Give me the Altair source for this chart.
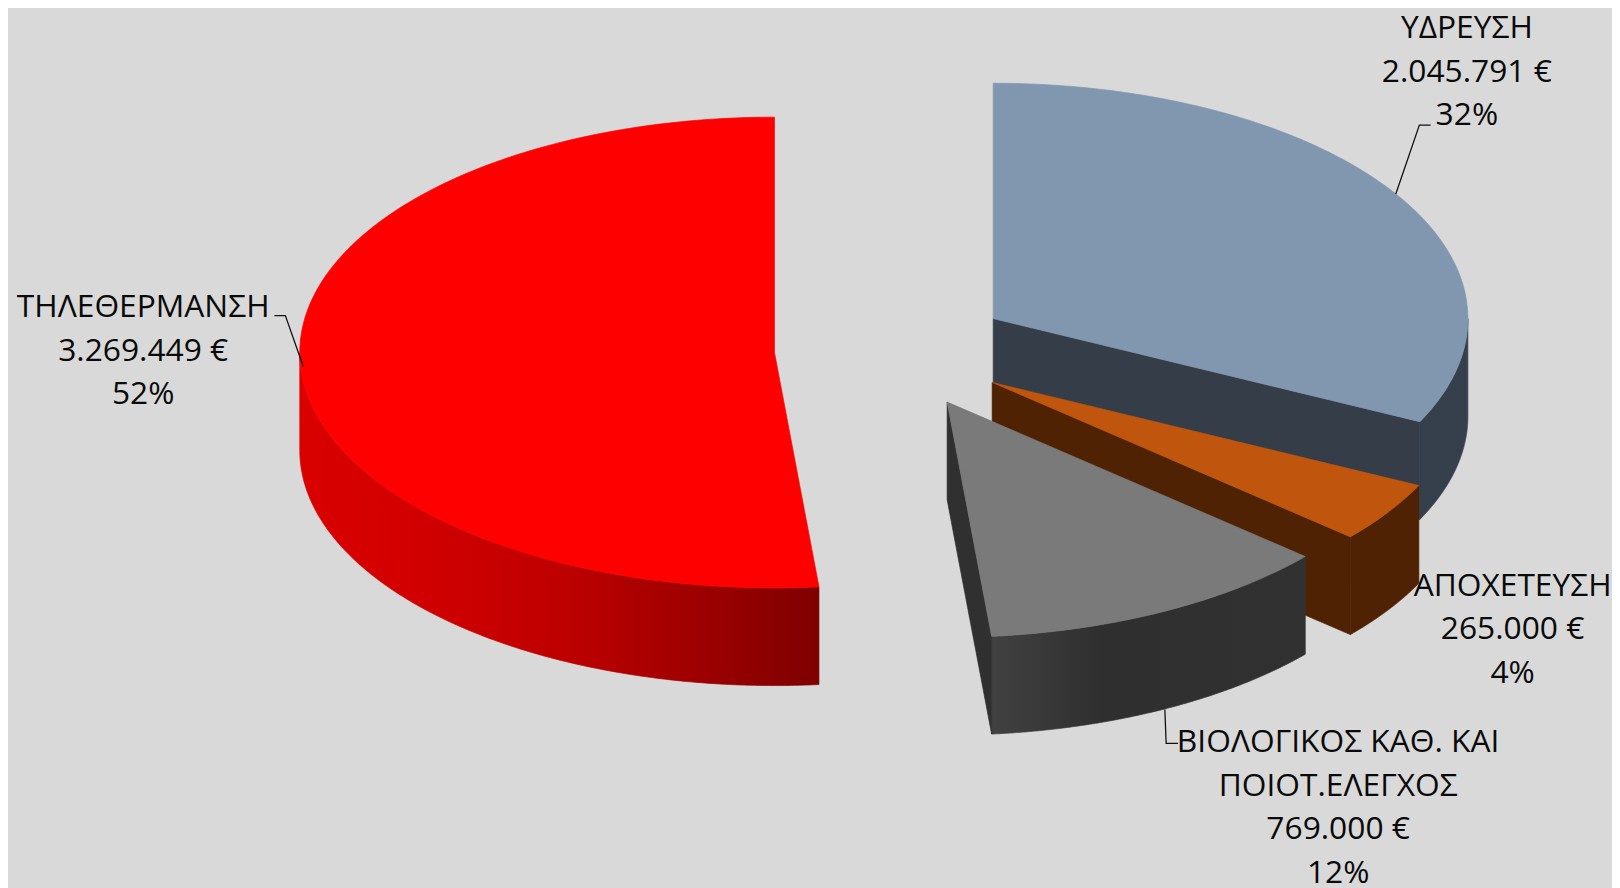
import numpy as np
import pandas as pd
import altair as alt

# ---- values ----
categories = ["ΥΔΡΕΥΣΗ", "ΑΠΟΧΕΤΕΥΣΗ", "ΒΙΟΛΟΓΙΚΟΣ ΚΑΘ. ΚΑΙ ΠΟΙΟΤ.ΕΛΕΓΧΟΣ", "ΤΗΛΕΘΕΡΜΑΝΣΗ"]
values = [2045791, 265000, 769000, 3269449]
amount_labels = ["2.045.791 €", "265.000 €", "769.000 €", "3.269.449 €"]
percent_labels = ["32%", "4%", "12%", "52%"]
name_lines = [["ΥΔΡΕΥΣΗ"], ["ΑΠΟΧΕΤΕΥΣΗ"], ["ΒΙΟΛΟΓΙΚΟΣ ΚΑΘ. ΚΑΙ", "ΠΟΙΟΤ.ΕΛΕΓΧΟΣ"], ["ΤΗΛΕΘΕΡΜΑΝΣΗ"]]

# ---- layout of the 3-D view ----
W, H = 1612, 880
XDOM = [8, 1615.5]
YDOM = [10.4, 885.2]
RX, RY, DEPTH = 477.5, 236, 98
centers = [(999, 318), (998, 382), (952.7, 401.7), (779, 352)]
label_pos = [(1475.5, 36.7), (1521.5, 596), (1346, 752.7), (144, 316.7)]
LINE = 43.6
FONT = "Open Sans"
FSIZE = 32
leaders = [
    [(1404, 193), (1427.7, 124), (1439, 124)],
    [(1171.7, 710), (1173, 744), (1185, 744)],
    [(305, 366), (287, 315), (276, 315)],
]

shares = np.array(values) / sum(values)
edges = np.concatenate([[0], np.cumsum(shares)]) * 2 * np.pi


def rim(c, a0, a1, n=160):
    a = np.linspace(a0, a1, n)
    return list(zip(c[0] + RX * np.sin(a), c[1] - RY * np.cos(a)))


def drop(pts):
    return [(x, y + DEPTH) for x, y in pts]


x_scale = alt.Scale(domain=XDOM, nice=False, zero=False)
y_scale = alt.Scale(domain=YDOM, nice=False, zero=False, reverse=True)
X = alt.X("x:Q", scale=x_scale, axis=None)
Y = alt.Y("y:Q", scale=y_scale, axis=None)


def poly(pts, fill):
    df = pd.DataFrame(pts, columns=["x", "y"]).assign(i=lambda d: range(len(d)))
    return alt.Chart(df).mark_line(fill=fill, stroke=fill, strokeWidth=0.7, interpolate="linear-closed").encode(
        x=X, y=Y, order="i:Q"
    )


def grad(stops):
    return alt.Gradient(
        gradient="linear", x1=0, x2=1, y1=0, y2=0,
        stops=[alt.GradientStop(offset=o, color=c) for o, c in stops],
    )


layers = []
# red slice
c = centers[3]
wall = rim(c, edges[3], np.pi * 1.5)
layers.append(poly(wall + drop(wall)[::-1], grad([(0, "#d90000"), (0.2, "#d30000"), (0.5, "#bf0000"), (0.75, "#a00000"), (0.9, "#8c0000"), (1, "#7f0000")])))
layers.append(poly([c] + rim(c, edges[3], edges[4]), "#ff0000"))

# blue slice
c = centers[0]
end = rim(c, edges[1], edges[1], 1)[0]
wall = rim(c, np.pi / 2, edges[1])
layers.append(poly(wall + drop(wall)[::-1], "#36404c"))
layers.append(poly([c, end] + drop([end, c]), "#353d49"))
layers.append(poly([c] + rim(c, edges[0], edges[1]), "#8196af"))

# orange slice
c = centers[1]
end = rim(c, edges[2], edges[2], 1)[0]
wall = rim(c, edges[1], edges[2])
layers.append(poly(wall + drop(wall)[::-1], "#4e2203"))
layers.append(poly([c, end] + drop([end, c]), "#4e2203"))
layers.append(poly([c] + rim(c, edges[1], edges[2]), "#c0560d"))

# grey slice
c = centers[2]
end = rim(c, edges[3], edges[3], 1)[0]
wall = rim(c, edges[2], edges[3])
layers.append(poly(wall + drop(wall)[::-1], grad([(0, "#414141"), (0.35, "#2f2f2f"), (1, "#313131")])))
layers.append(poly([c, end] + drop([end, c]), "#303030"))
layers.append(poly([c] + rim(c, edges[2], edges[3]), "#7a7a7a"))

# leader lines
for k, pts in enumerate(leaders):
    df = pd.DataFrame(pts, columns=["x", "y"]).assign(i=lambda d: range(len(d)))
    layers.append(
        alt.Chart(df).mark_line(color="#111111", strokeWidth=1.3).encode(x=X, y=Y, order="i:Q")
    )

# labels
rows = []
for k in range(4):
    x0, y0 = label_pos[k]
    for j, t in enumerate(name_lines[k] + [amount_labels[k], percent_labels[k]]):
        rows.append({"x": x0, "y": y0 + j * LINE, "t": t})
layers.append(
    alt.Chart(pd.DataFrame(rows))
    .mark_text(font=FONT, fontSize=FSIZE, color="#0a0a0a", align="center", baseline="alphabetic")
    .encode(x=X, y=Y, text="t:N")
)

chart = (
    alt.layer(*layers)
    .properties(width=W, height=H, background="#d9d9d9", padding=0)
    .configure_view(stroke=None)
)
chart.save("out.html", embed_options={"renderer": "svg", "actions": False})
